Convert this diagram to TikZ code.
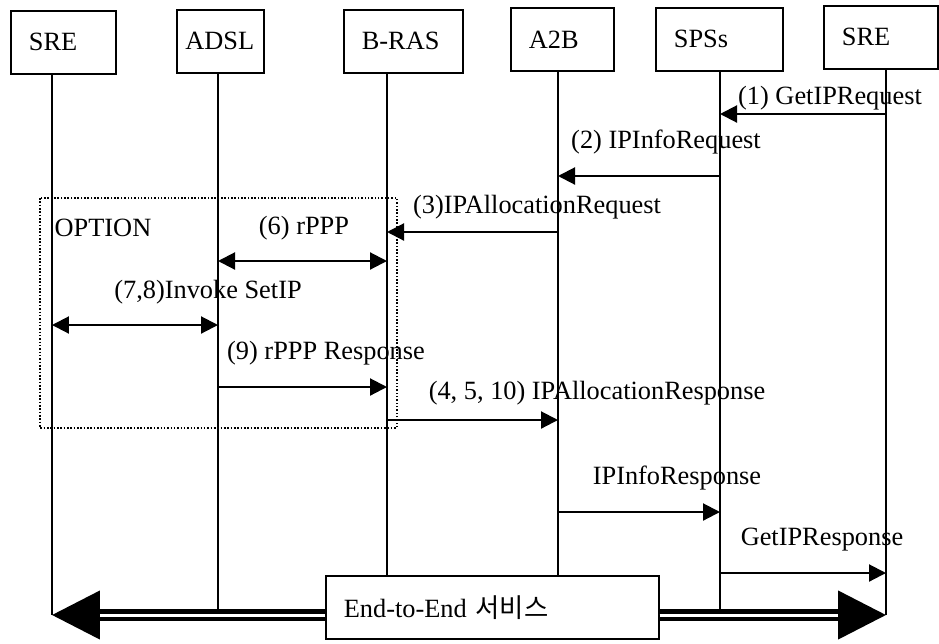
\documentclass[tikz,border=0pt]{standalone}
\usepackage{fontspec}
\setmainfont{Liberation Serif}
\newfontfamily\hangul{Noto Sans CJK KR}
\usetikzlibrary{arrows.meta}

\tikzset{
    ent/.style={draw, line width=1pt, anchor=north west, align=left,
        text width=#1, inner xsep=0.36cm, minimum height=1.26cm},
    life/.style={line width=1pt},
    msg/.style={line width=1.2pt, -{Triangle[length=0.34cm,width=0.34cm]}},
    msgboth/.style={line width=1.2pt,
        {Triangle[length=0.34cm,width=0.34cm]}-{Triangle[length=0.34cm,width=0.34cm]}},
    pipe/.style={double, line width=0.09cm, double distance=0.06cm},
    bighead/.style={-{Triangle[length=0.96cm,width=0.96cm]}}
}

\begin{document}
\begin{tikzpicture}[x=0.02cm, y=-0.02cm, font=\fontsize{15pt}{18pt}\selectfont]
    \useasboundingbox (0,0) rectangle (939,643);

    % entities
    \node[ent=1.38cm] (sreA) at (10,10) {SRE};
    \node[ent=1.40cm, inner xsep=0.17cm] (adsl) at (176,9) {ADSL};
    \node[ent=1.66cm] (bras) at (343,9) {B-RAS};
    \node[ent=1.34cm] (atob) at (510,7) {A2B};
    \node[ent=1.82cm] (spss) at (655,7) {SPSs};
    \node[ent=1.56cm] (sreB) at (823,5) {SRE};

    % lifeline positions
    \coordinate (sreAx) at (52,0);
    \coordinate (adslx) at (218,0);
    \coordinate (brasx) at (387,0);
    \coordinate (atobx) at (558,0);
    \coordinate (spssx) at (720,0);
    \coordinate (sreBx) at (886,0);

    % message rows
    \coordinate (r1) at (0,114);
    \coordinate (r2) at (0,176);
    \coordinate (r3) at (0,232);
    \coordinate (r6) at (0,261);
    \coordinate (r7) at (0,325);
    \coordinate (r9) at (0,387);
    \coordinate (r4) at (0,420);
    \coordinate (r11) at (0,512);
    \coordinate (r12) at (0,573);
    \coordinate (rend) at (0,615);

    % end-to-end box
    \node[draw, line width=1pt, fill=white, anchor=north west, align=left,
        text width=5.94cm, inner xsep=0.36cm, minimum height=1.26cm]
        (e2e) at (325,575) {End-to-End {\hangul 서비스}};

    % lifelines
    \draw[life] (sreA.south -| sreAx) -- (sreAx |- rend);
    \draw[life] (adsl.south -| adslx) -- (adslx |- rend);
    \draw[life] (bras.south -| brasx) -- (brasx |- e2e.north);
    \draw[life] (atob.south -| atobx) -- (atobx |- e2e.north);
    \draw[life] (spss.south -| spssx) -- (spssx |- rend);
    \draw[life] (sreB.south -| sreBx) -- (sreBx |- rend);

    % option area
    \draw[densely dotted, line width=0.9pt] (40,198) rectangle (397,428);
    \node (opt) at (103,228) {OPTION};

    % messages
    \draw[msg] (sreBx |- r1) -- (spssx |- r1);
    \node (m1) at (830,98) {(1) GetIPRequest};
    \draw[msg] (spssx |- r2) -- (atobx |- r2);
    \node (m2) at (666,142) {(2) IPInfoRequest};
    \draw[msg] (atobx |- r3) -- (brasx |- r3);
    \node (m3) at (537,207) {(3)IPAllocationRequest};
    \draw[msgboth] (adslx |- r6) -- (brasx |- r6);
    \node (m6) at (304,228) {(6) rPPP};
    \draw[msgboth] (sreAx |- r7) -- (adslx |- r7);
    \node (m7) at (208,292) {(7,8)Invoke SetIP};
    \draw[msg] (adslx |- r9) -- (brasx |- r9);
    \node (m9) at (326,353) {(9) rPPP Response};
    \draw[msg] (brasx |- r4) -- (atobx |- r4);
    \node (m4) at (597,393) {(4, 5, 10) IPAllocationResponse};
    \draw[msg] (atobx |- r11) -- (spssx |- r11);
    \node (m11) at (677,478) {IPInfoResponse};
    \draw[msg] (spssx |- r12) -- (sreBx |- r12);
    \node (m12) at (822,540) {GetIPResponse};

    % end-to-end service
    \draw[pipe, bighead] (e2e.west |- rend) -- (sreAx |- rend);
    \draw[pipe, bighead] (e2e.east |- rend) -- (sreBx |- rend);
\end{tikzpicture}
\end{document}
